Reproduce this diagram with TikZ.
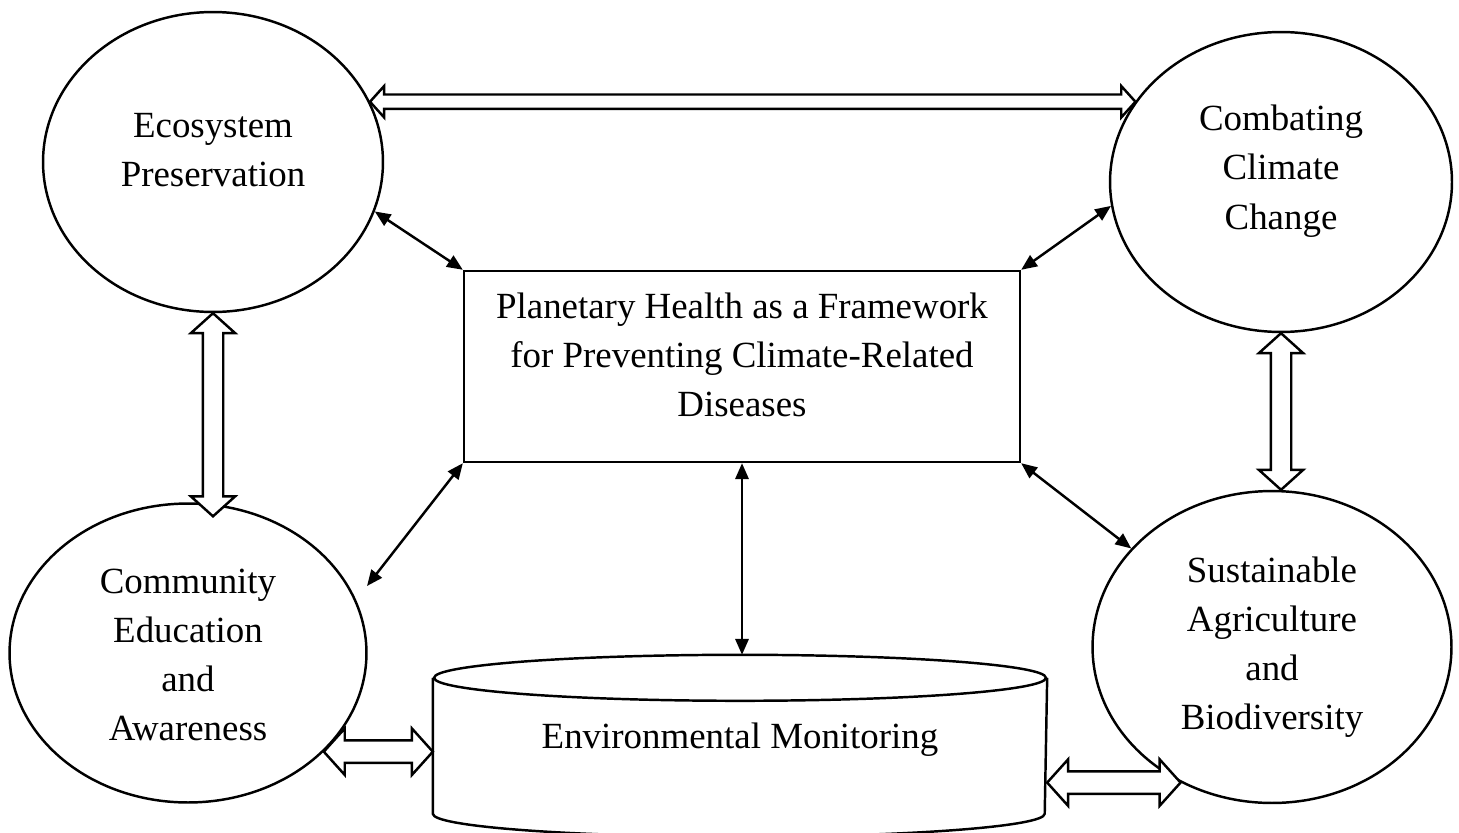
\documentclass[tikz,border=0pt]{standalone}
\usepackage{fontspec}
\setmainfont{Liberation Serif}
\usetikzlibrary{shapes.geometric, shapes.arrows, arrows.meta, calc}
\tikzset{
	txt/.style={font=\fontsize{21}{28}\selectfont, align=center, inner sep=0pt}
}
\newcommand{\blockarrow}[4][]{%
  \path let \p1=(#2), \p2=(#3),
    \n1={veclen(\x2-\x1,\y2-\y1)}, \n2={atan2(\y2-\y1,\x2-\x1)} in
    node[blockarr, #1, minimum height=\n1, rotate=\n2] (#4) at ($(\p1)!0.5!(\p2)$) {};%
}

\begin{document}
\begin{tikzpicture}[x=0.02cm, y=-0.02cm, line width=1.4pt]

              \tikzset{
                oval/.style={
                    shape=ellipse,
                    draw=black,
                    fill=white,
                    inner sep=0pt
                  },
                box/.style={
                    shape=rectangle,
                    draw=black,
                    fill=white,
                    minimum width=11.12cm,
                    minimum height=3.82cm,
                    inner sep=0pt
                  },
                link/.style={{Triangle[length=9pt,width=7.5pt]}-{Triangle[length=9pt,width=7.5pt]}},
                blockarr/.style={
                    shape=double arrow,
                    draw=black,
                    fill=white,
                    inner xsep=0pt,
                    double arrow tip angle=96
                  }
              }
              \useasboundingbox (0,0) rectangle (1459,832);
              \clip (0,0) rectangle (1459,832);

              \node[oval, minimum width=6.8cm, minimum height=6cm] (eco) at (213,162) {};
              \node[oval, minimum width=6.84cm, minimum height=6cm] (comb) at (1281,182) {};
              \node[oval, minimum width=7.14cm, minimum height=5.98cm] (comm) at (188,653) {};
              \node[oval, minimum width=7.18cm, minimum height=6.24cm] (sust) at (1272,647) {};
              \node[box] (ph) at (742,366.5) {};

              % cylinder
              \node[minimum width=12.24cm, minimum height=3.52cm, inner sep=0pt] (env) at (740,744) {};
              \draw[fill=white] ($(env.north west)+(0,23)$) -- ($(env.north west)+(0,159)$)
                arc[start angle=180, end angle=360, x radius=6.12cm, y radius=0.46cm]
                -- ($(env.north east)+(0,23)$);
              \draw[fill=white] ($(env.north)+(0,23)$) ellipse[x radius=6.12cm, y radius=0.46cm];

              \blockarrow[inner ysep=0.12cm, double arrow head extend=0.17cm]{eco.21}{eco.21 -| comb.151}{a1}
              \blockarrow[inner ysep=0.18cm, double arrow head extend=0.24cm]{eco.south}{$(eco.south |- comm.north)+(0,14)$}{a2}
              \blockarrow[inner ysep=0.18cm, double arrow head extend=0.24cm]{comb.south}{comb.south |- sust.north}{a3}
              \blockarrow[inner ysep=0.2cm, double arrow head extend=0.24cm]{comm.-36.5}{comm.-36.5 -| env.west}{a4}
              \blockarrow[inner ysep=0.2cm, double arrow head extend=0.24cm]{sust.236 -| env.east}{sust.236}{a5}

              \coordinate (commtip) at (367,586);
              \draw[link] (eco.-17) -- (ph.north west);
              \draw[link] (comb.188) -- (ph.north east);
              \draw[link] (ph.south west) -- (commtip);
              \draw[link] (ph.south east) -- (sust.145);
              \draw[link] (ph.south) -- (ph.south |- env.north);

              \node[txt] (ecot) at (213,150) {Ecosystem\\Preservation};
              \node[txt] (combt) at (1281,171) {Combating\\Climate\\Change};
              \node[txt] (commt) at (188,655) {Community\\Education\\and\\Awareness};
              \node[txt] (sustt) at (1272,647) {Sustainable\\Agriculture\\and\\Biodiversity};
              \node[txt] (pht) at (742,355) {Planetary Health as a Framework\\for Preventing Climate-Related\\Diseases};
              \node[txt] (envt) at (740,740) {Environmental Monitoring};

            \end{tikzpicture}
\end{document}
